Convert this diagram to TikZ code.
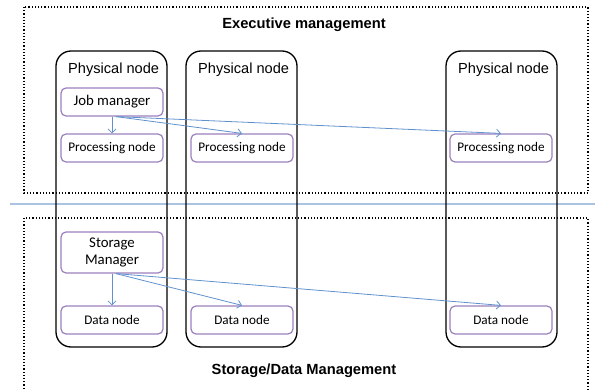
\documentclass[tikz,border=0pt]{standalone}
\usepackage{fontspec}
\setmainfont{Liberation Sans}
\newfontfamily\carlito{Carlito}
\usetikzlibrary{positioning, arrows.meta}
\definecolor{boxpurple}{RGB}{155,128,190}
\definecolor{arrowblue}{RGB}{95,145,205}
\definecolor{lineblue}{RGB}{170,195,225}
\tikzset{
  region/.style={draw, dotted, line width=1.2pt},
  physical/.style={draw, line width=1.3pt, rounded corners=15pt,
    minimum width=111pt, minimum height=296pt, inner sep=0pt},
  physlabel/.style={anchor=base east, font=\fontsize{14.6}{17}\selectfont},
  task/.style={draw=boxpurple, line width=1.2pt, rounded corners=5pt,
    minimum width=102pt, minimum height=28pt, inner sep=0pt,
    font=\carlito\fontsize{13.2}{15}\selectfont},
  manager/.style={task, align=center, font=\carlito\fontsize{14.8}{17}\selectfont},
  link/.style={-{Straight Barb[length=4pt, width=8pt]}, draw=arrowblue, line width=0.8pt},
  title/.style={font=\bfseries\fontsize{14.7}{17}\selectfont}
}
\begin{document}
\begin{tikzpicture}[x=1pt, y=-1pt]
  \useasboundingbox (0,0) rectangle (595,390);
  % management regions
  \draw[region] (24,7) rectangle (588,193);
  \draw[region] (24,392) -- (24,218) -- (588,218) -- (588,392);
  \draw[lineblue, line width=1.3pt] (10,204) -- (595,204);
  \node[title] (exec) at (304,25) {Executive management};
  \node[title] (store) at (304,371) {Storage/Data Management};
  % physical nodes
  \node[physical] (pn1) at (111.5,199) {};
  \node[physical] (pn2) at (241.5,199) {};
  \node[physical] (pn3) at (501.5,199) {};
  \node[physlabel] (lab1) at ([xshift=-5pt, yshift=-23pt]pn1.north east) {Physical node};
  \node[physlabel] (lab2) at ([xshift=-5pt, yshift=-23pt]pn2.north east) {Physical node};
  \node[physlabel] (lab3) at ([xshift=-5pt, yshift=-23pt]pn3.north east) {Physical node};
  % executive side
  \node[manager] (jm) at (112,102) {Job manager};
  \node[task] (pr1) at (112,148) {Processing node};
  \node[task] (pr2) at (242,148) {Processing node};
  \node[task] (pr3) at (501,148) {Processing node};
  % storage side
  \node[manager, minimum height=41pt] (sm) at (112,252.5) {Storage\\Manager};
  \node[task] (dn1) at (112,320) {Data node};
  \node[task] (dn2) at (242,320) {Data node};
  \node[task] (dn3) at (501,320) {Data node};
  \draw[link] (jm.south) -- (pr1.north);
  \draw[link] ([xshift=4pt]jm.south) -- (pr2.north);
  \draw[link] ([xshift=4pt]jm.south) -- (pr3.north);
  \draw[link] (sm.south) -- (dn1.north);
  \draw[link] ([xshift=4pt]sm.south) -- (dn2.north);
  \draw[link] ([xshift=4pt]sm.south) -- (dn3.north);
\end{tikzpicture}
\end{document}
